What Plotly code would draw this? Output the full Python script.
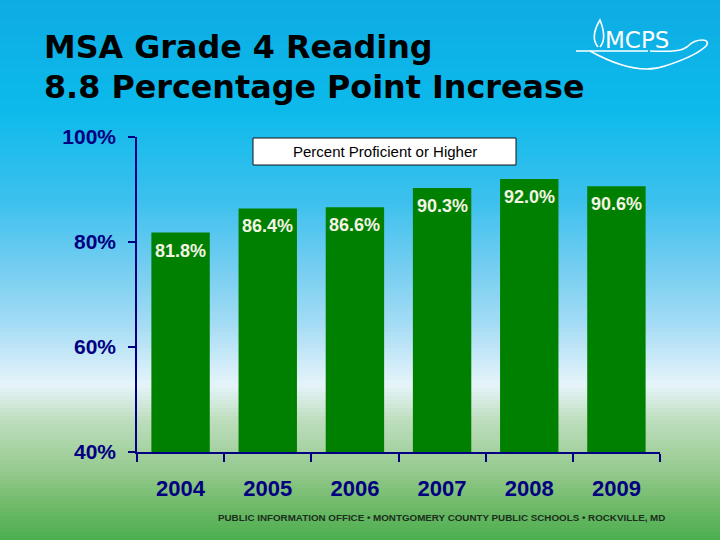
import plotly.graph_objects as go

# data
years = ["2004", "2005", "2006", "2007", "2008", "2009"]
pct_proficient = [81.8, 86.4, 86.6, 90.3, 92.0, 90.6]
y_ticks = [40, 60, 80, 100]
y_tick_labels = ["40%", "60%", "80%", "100%"]

W, H = 720, 540
NAVY = "#000080"


def px(x, y):
    # pixel -> paper coords
    return x / W, 1 - y / H


# background gradient (blue -> white -> green), built from horizontal strips
stops = [(0, (14, 172, 228)), (110, (12, 186, 234)), (200, (60, 192, 238)),
         (260, (110, 204, 240)), (320, (160, 218, 244)), (385, (230, 244, 250)),
         (420, (190, 222, 190)), (470, (150, 202, 142)), (510, (106, 184, 100)),
         (540, (76, 174, 80))]


def col_at(y):
    for (y0, c0), (y1, c1) in zip(stops, stops[1:]):
        if y0 <= y <= y1:
            t = (y - y0) / (y1 - y0)
            return "rgb(%d,%d,%d)" % tuple(round(a + (b - a) * t) for a, b in zip(c0, c1))
    return "rgb(%d,%d,%d)" % stops[-1][1]


shapes = []
step = 4
for y in range(0, H, step):
    x0, y0 = px(0, y)
    x1, y1 = px(W, y + step + 1)
    shapes.append(dict(type="rect", xref="paper", yref="paper", x0=x0, x1=x1, y0=y1, y1=y0,
                       fillcolor=col_at(y + step / 2), line=dict(width=0), layer="below"))

# "Percent Proficient or Higher" box
bx0, by0 = px(253, 138)
bx1, by1 = px(516, 165)
shapes.append(dict(type="rect", xref="paper", yref="paper", x0=bx0, x1=bx1, y0=by1, y1=by0,
                   fillcolor="white", line=dict(color="#111111", width=1)))


# MCPS logo strokes
def path(points):
    s = ""
    for cmd, pts in points:
        s += cmd + " " + " ".join("%.4f,%.4f" % px(*p) for p in pts) + " "
    return s.strip()


logo = [
    [("M", [(576, 51)]), ("L", [(648, 51)])],
    [("M", [(590, 51)]), ("C", [(610, 62), (640, 75), (665, 66)]),
     ("C", [(690, 58), (700, 52), (706, 46)]), ("C", [(712, 38), (696, 38), (688, 46)]),
     ("C", [(682, 51), (672, 52), (650, 51)])],
    [("M", [(598, 47)]), ("C", [(592, 40), (594, 30), (600, 20)]),
     ("C", [(604, 30), (606, 40), (600, 47)])],
]
for p in logo:
    shapes.append(dict(type="path", xref="paper", yref="paper", path=path(p),
                       line=dict(color="white", width=1.6)))

fig = go.Figure(go.Bar(x=years, y=pct_proficient, marker=dict(color="#008000", line=dict(width=0))))

annotations = []
for i, v in enumerate(pct_proficient):
    annotations.append(dict(x=i, y=v, xref="x", yref="y", text="%.1f%%" % v, showarrow=False,
                            yanchor="middle", yshift=-18,
                            font=dict(family="Liberation Sans", size=18, color="#F4F4E4", weight="bold")))

tx, ty = px(42, 47)
annotations.append(dict(x=tx, y=ty, xref="paper", yref="paper", xanchor="left", yanchor="middle",
                        showarrow=False, text="MSA Grade 4 Reading",
                        font=dict(family="DejaVu Sans", size=31.8, color="#000000", weight="bold")))
tx, ty = px(42, 87)
annotations.append(dict(x=tx, y=ty, xref="paper", yref="paper", xanchor="left", yanchor="middle",
                        showarrow=False, text="8.8 Percentage Point Increase",
                        font=dict(family="DejaVu Sans", size=31.8, color="#000000", weight="bold")))
tx, ty = px(384.5, 151.5)
annotations.append(dict(x=tx, y=ty, xref="paper", yref="paper", xanchor="center", yanchor="middle",
                        showarrow=False, text="Percent Proficient or Higher",
                        font=dict(family="Liberation Sans", size=15, color="#000000")))
tx, ty = px(441, 517)
annotations.append(dict(x=tx, y=ty, xref="paper", yref="paper", xanchor="center", yanchor="middle",
                        showarrow=False,
                        text="PUBLIC INFORMATION OFFICE \u2022 MONTGOMERY COUNTY PUBLIC SCHOOLS \u2022 ROCKVILLE, MD",
                        font=dict(family="Liberation Sans", size=9.8, color="#1c2e1c", weight="bold")))
tx, ty = px(637, 40)
annotations.append(dict(x=tx, y=ty, xref="paper", yref="paper", xanchor="center", yanchor="middle",
                        showarrow=False, text="MCPS",
                        font=dict(family="DejaVu Sans", size=23, color="white")))

x0, y_top = px(137, 137)
x1, y_bot = px(660, 452)

fig.update_layout(
    width=W, height=H,
    margin=dict(l=0, r=0, t=0, b=0, autoexpand=False),
    paper_bgcolor="rgba(0,0,0,0)", plot_bgcolor="rgba(0,0,0,0)",
    showlegend=False, bargap=0.33,
    shapes=shapes, annotations=annotations,
    xaxis=dict(domain=[x0, x1], type="category", range=[-0.5, len(years) - 0.5],
               showline=True, linecolor=NAVY, linewidth=1.5,
               ticks="outside", tickson="boundaries", ticklen=8, tickcolor=NAVY, tickwidth=1.5,
               showgrid=False, ticklabelstandoff=16, tickangle=0,
               tickfont=dict(family="Liberation Sans", size=22, color=NAVY, weight="bold")),
    yaxis=dict(domain=[y_bot, y_top], range=[40, 100], tickmode="array", tickvals=y_ticks,
               ticktext=y_tick_labels,
               showline=True, linecolor=NAVY, linewidth=1.5, ticks="outside", ticklen=7,
               tickcolor=NAVY, tickwidth=1.5, showgrid=False, zeroline=False, ticklabelstandoff=8,
               tickfont=dict(family="Liberation Sans", size=21, color=NAVY, weight="bold")),
)

# drop the page's default body margin so the 720x540 figure sits at the window origin
fig.write_html("out.html", config={"displayModeBar": False},
               post_script="document.body.style.margin='0';")
